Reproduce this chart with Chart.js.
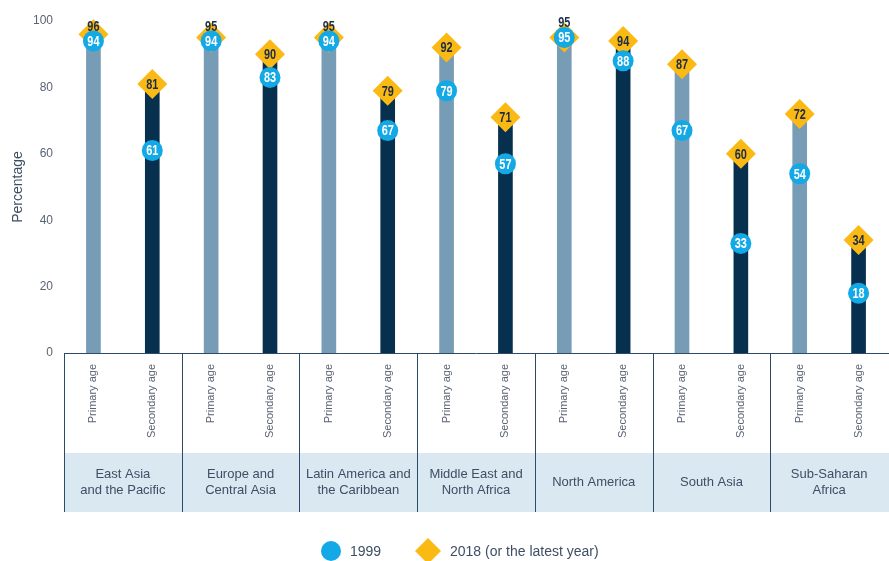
<!DOCTYPE html>
<html>
<head>
<meta charset="utf-8">
<script src="https://cdn.jsdelivr.net/npm/chart.js@4.4.1/dist/chart.umd.min.js"></script>
<style>
  html, body { margin: 0; padding: 0; background: #fff; overflow: hidden; }
  #wrap { width: 889px; height: 561px; position: relative; }
  #chart { display: block; }
</style>
</head>
<body>
<div id="wrap"><canvas id="chart"></canvas></div>
<script>
// Categories: two age groups per region
var regions = [
    ['East Asia', 'and the Pacific'],
    ['Europe and', 'Central Asia'],
    ['Latin America and', 'the Caribbean'],
    ['Middle East and', 'North Africa'],
    ['North America'],
    ['South Asia'],
    ['Sub-Saharan', 'Africa']
];
var ageLabels = ['Primary age', 'Secondary age'];

// Values per region: primary then secondary
var primary1999 = [94, 94, 94, 79, 95, 67, 54];
var primary2018 = [96, 95, 95, 92, 95, 87, 72];
var secondary1999 = [61, 83, 67, 57, 88, 33, 18];
var secondary2018 = [81, 90, 79, 71, 94, 60, 34];

var yTicks = [0, 20, 40, 60, 80, 100];

var colPrimary = '#769cb6';
var colSecondary = '#07304f';
var colCircle = '#13a9e6';
var colDiamond = '#fbb913';
var colDark = '#1b2d47';
var colText = '#3e4e63';

// Build flat arrays
var labels = [], values1999 = [], values2018 = [], barColors = [];
for (var i = 0; i < regions.length; i++) {
    labels.push(ageLabels[0]);
    labels.push(ageLabels[1]);
    values1999.push(primary1999[i]);
    values1999.push(secondary1999[i]);
    values2018.push(primary2018[i]);
    values2018.push(secondary2018[i]);
    barColors.push(colPrimary);
    barColors.push(colSecondary);
}

var labelFont = 'bold 14px "Liberation Sans", Arial, sans-serif';

// condensed-looking text
function narrowText(ctx, txt, x, y) {
    ctx.save();
    ctx.translate(x, y);
    ctx.scale(0.78, 1);
    ctx.fillText(txt, 0, 0);
    ctx.restore();
}

// Value labels on top of markers
var valueLabels = {
    id: 'valueLabels',
    afterDatasetsDraw: function(chart) {
        var ctx = chart.ctx;
        var dMeta = chart.getDatasetMeta(1);
        var cMeta = chart.getDatasetMeta(2);
        ctx.save();
        ctx.font = labelFont;
        ctx.textAlign = 'center';
        ctx.textBaseline = 'middle';
        for (var i = 0; i < values2018.length; i++) {
            var d = dMeta.data[i], c = cMeta.data[i];
            var close = Math.abs(values2018[i] - values1999[i]) <= 2;
            ctx.fillStyle = colDark;
            if (close) {
                narrowText(ctx, values2018[i], d.x, c.y - 14);
            } else {
                narrowText(ctx, values2018[i], d.x, d.y + 1);
            }
            ctx.fillStyle = '#fff';
            narrowText(ctx, values1999[i], c.x, c.y + 1);
        }
        ctx.restore();
    }
};

// Region band, separators and legend under the axis
var regionBand = {
    id: 'regionBand',
    afterDraw: function(chart) {
        var ctx = chart.ctx;
        var area = chart.chartArea;
        var xs = chart.scales.x;
        var top = area.bottom;
        var bandTop = top + 100;
        var bandBottom = top + 159;
        var groupW = (xs.right - xs.left) / regions.length;
        ctx.save();
        ctx.fillStyle = '#d9e8f1';
        ctx.fillRect(xs.left, bandTop, chart.width - xs.left, bandBottom - bandTop);

        ctx.strokeStyle = '#2d4a69';
        ctx.lineWidth = 1;
        ctx.beginPath();
        ctx.moveTo(xs.left, top + 0.5);
        ctx.lineTo(chart.width, top + 0.5);
        for (var g = 0; g < regions.length; g++) {
            var x = Math.round(xs.left + g * groupW) + 0.5;
            ctx.moveTo(x, top);
            ctx.lineTo(x, bandBottom);
        }
        ctx.stroke();

        ctx.fillStyle = colText;
        ctx.font = '13px "Liberation Sans", Arial, sans-serif';
        ctx.textAlign = 'center';
        ctx.textBaseline = 'middle';
        var mid = (bandTop + bandBottom) / 2;
        for (var r = 0; r < regions.length; r++) {
            var cx = xs.left + (r + 0.5) * groupW;
            var lines = regions[r];
            for (var l = 0; l < lines.length; l++) {
                ctx.fillText(lines[l], cx, mid + (l - (lines.length - 1) / 2) * 16);
            }
        }

        // legend
        var ly = 551;
        ctx.fillStyle = colCircle;
        ctx.beginPath();
        ctx.arc(331, ly, 10, 0, Math.PI * 2);
        ctx.fill();
        ctx.fillStyle = colDiamond;
        ctx.beginPath();
        ctx.moveTo(428, ly - 13);
        ctx.lineTo(441, ly);
        ctx.lineTo(428, ly + 13);
        ctx.lineTo(415, ly);
        ctx.closePath();
        ctx.fill();
        ctx.fillStyle = colText;
        ctx.font = '14px "Liberation Sans", Arial, sans-serif';
        ctx.textAlign = 'left';
        ctx.fillText('1999', 350, ly + 1);
        ctx.fillText('2018 (or the latest year)', 450, ly + 1);
        ctx.restore();
    }
};

var ctx = document.getElementById('chart').getContext('2d');
var chart = new Chart(ctx, {
    type: 'bar',
    data: {
        labels: labels,
        datasets: [
            {
                type: 'bar',
                label: 'bars',
                data: values2018,
                backgroundColor: barColors,
                barThickness: 14,
                order: 3
            },
            {
                type: 'line',
                label: '2018 (or the latest year)',
                data: values2018,
                showLine: false,
                pointStyle: 'rectRot',
                pointRadius: 15,
                pointHoverRadius: 15,
                pointBackgroundColor: colDiamond,
                pointBorderWidth: 0,
                clip: false,
                order: 2
            },
            {
                type: 'line',
                label: '1999',
                data: values1999,
                showLine: false,
                pointStyle: 'circle',
                pointRadius: 10.5,
                pointHoverRadius: 10.5,
                pointBackgroundColor: colCircle,
                pointBorderWidth: 0,
                clip: false,
                order: 1
            }
        ]
    },
    options: {
        responsive: true,
        maintainAspectRatio: false,
        animation: false,
        layout: { autoPadding: false, padding: { top: 21, right: 1, bottom: 49, left: 0 } },
        plugins: {
            legend: { display: false },
            tooltip: { enabled: false }
        },
        scales: {
            x: {
                grid: { display: false, drawTicks: false },
                border: { display: false },
                ticks: {
                    autoSkip: false,
                    maxRotation: 90,
                    minRotation: 90,
                    padding: 11,
                    color: '#5a6474',
                    font: { size: 11, family: '"Liberation Sans", Arial, sans-serif' }
                },
                afterFit: function(scale) {
                    scale.height = 159;
                    scale.paddingLeft = 0;
                    scale.paddingRight = 0;
                }
            },
            y: {
                min: 0,
                max: 100,
                afterBuildTicks: function(scale) {
                    scale.ticks = yTicks.map(function(v) { return { value: v }; });
                },
                grid: { display: false, drawTicks: false },
                border: { display: false },
                ticks: {
                    padding: 11,
                    color: '#5a6474',
                    font: { size: 12, family: '"Liberation Sans", Arial, sans-serif' }
                },
                title: {
                    display: true,
                    text: 'Percentage',
                    color: colText,
                    padding: { top: 10, bottom: 0 },
                    font: { size: 14, family: '"Liberation Sans", Arial, sans-serif' }
                },
                afterFit: function(scale) {
                    scale.width = 64;
                    scale.paddingTop = 0;
                    scale.paddingBottom = 0;
                }
            }
        }
    },
    plugins: [valueLabels, regionBand]
});
</script>
</body>
</html>
